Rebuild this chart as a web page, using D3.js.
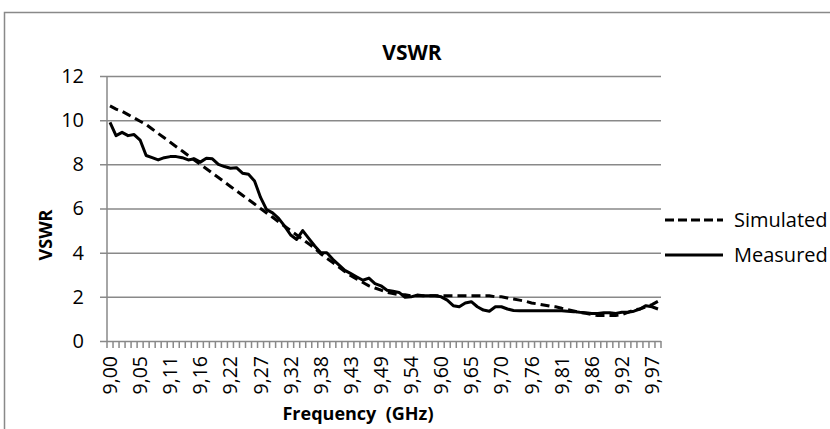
<!DOCTYPE html>
<html>
<head>
<meta charset="utf-8">
<script src="https://cdn.jsdelivr.net/npm/d3@7"></script>
<style>
    body { margin: 0; background: #fff; }
    text { font-family: "Open Sans", sans-serif; fill: #000; }
    .title, .axisTitle { font-weight: bold; white-space: pre; }
</style>
</head>
<body>
<div id="chart"></div>
<script>
// frequency categories (GHz), one per measured point
const freqs = [
    9.00, 9.01, 9.02, 9.03, 9.04, 9.05, 9.06, 9.07, 9.09, 9.10,
    9.11, 9.12, 9.13, 9.14, 9.15, 9.16, 9.17, 9.18, 9.19, 9.20,
    9.22, 9.23, 9.24, 9.25, 9.26, 9.27, 9.28, 9.29, 9.30, 9.31,
    9.32, 9.33, 9.34, 9.35, 9.37, 9.38, 9.39, 9.40, 9.41, 9.42,
    9.43, 9.44, 9.45, 9.46, 9.47, 9.49, 9.50, 9.51, 9.52, 9.53,
    9.54, 9.55, 9.56, 9.57, 9.58, 9.60, 9.61, 9.62, 9.63, 9.64,
    9.65, 9.66, 9.67, 9.68, 9.69, 9.70, 9.71, 9.72, 9.73, 9.75,
    9.76, 9.77, 9.78, 9.79, 9.80, 9.81, 9.82, 9.83, 9.84, 9.85,
    9.86, 9.87, 9.88, 9.90, 9.91, 9.92, 9.93, 9.94, 9.95, 9.96,
    9.97, 9.98
];

const simulated = [
    10.65, 10.5, 10.4, 10.25, 10.1, 9.95, 9.8, 9.6, 9.4, 9.2,
    9.0, 8.8, 8.6, 8.4, 8.2, 8.0, 7.8, 7.6, 7.4, 7.2,
    7.0, 6.8, 6.6, 6.4, 6.2, 6.0, 5.8, 5.6, 5.4, 5.2,
    5.0, 4.8, 4.6, 4.4, 4.2, 3.95, 3.75, 3.55, 3.35, 3.15,
    2.95, 2.8, 2.65, 2.5, 2.4, 2.3, 2.2, 2.15, 2.1, 2.1,
    2.05, 2.05, 2.05, 2.05, 2.05, 2.05, 2.05, 2.05, 2.05, 2.05,
    2.05, 2.05, 2.05, 2.05, 2.0, 2.0, 1.95, 1.9, 1.85, 1.8,
    1.72, 1.68, 1.63, 1.58, 1.55, 1.48, 1.42, 1.36, 1.3, 1.25,
    1.2, 1.15, 1.15, 1.15, 1.15, 1.2, 1.3, 1.4, 1.45, 1.55,
    1.65, 1.8
];

const measured = [
    9.9, 9.3, 9.45, 9.3, 9.35, 9.1, 8.4, 8.3, 8.2, 8.3,
    8.35, 8.35, 8.3, 8.2, 8.25, 8.1, 8.28, 8.25, 8.0, 7.9,
    7.82, 7.85, 7.6, 7.55, 7.25, 6.5, 5.95, 5.8, 5.55, 5.2,
    4.8, 4.6, 5.0, 4.65, 4.3, 4.0, 4.0, 3.7, 3.45, 3.2,
    3.05, 2.9, 2.75, 2.85, 2.6, 2.5, 2.3, 2.25, 2.2, 1.98,
    2.0, 2.08, 2.05, 2.05, 2.05, 2.0, 1.85, 1.6, 1.55, 1.72,
    1.78, 1.55, 1.4, 1.35, 1.55, 1.55, 1.45, 1.38, 1.37, 1.37,
    1.37, 1.37, 1.37, 1.37, 1.37, 1.37, 1.35, 1.33, 1.3, 1.28,
    1.25, 1.25, 1.28, 1.28, 1.25, 1.3, 1.3, 1.35, 1.45, 1.6,
    1.55, 1.45
];

const yTicks = [0, 2, 4, 6, 8, 10, 12];
const labelEvery = 5;

const width = 830;
const height = 429;
const margin = { top: 76, right: 169, bottom: 88, left: 107 };
const gridColour = '#898989';

const svg = d3.select('#chart').append('svg')
    .attr('width', width)
    .attr('height', height);

// chart area frame (runs off the right and bottom of the picture)
svg.append('rect')
    .attr('x', 4.5)
    .attr('y', 12.5)
    .attr('width', 900)
    .attr('height', 500)
    .attr('fill', '#fff')
    .attr('stroke', gridColour)
    .attr('stroke-width', 1.5);

const x = d3.scaleBand()
    .domain(d3.range(freqs.length))
    .range([margin.left, width - margin.right]);

const y = d3.scaleLinear()
    .domain([0, 12])
    .range([height - margin.bottom, margin.top]);

// horizontal gridlines + y axis
const yAxis = d3.axisLeft(y)
    .tickValues(yTicks)
    .tickSize(-(width - margin.right - margin.left + 7))
    .tickPadding(16)
    .tickFormat(d3.format('d'));

svg.append('g')
    .attr('class', 'axis yAxis')
    .attr('transform', `translate(${margin.left - 7}, 0)`)
    .call(yAxis)
    .call(g => g.select('.domain').remove())
    .call(g => g.selectAll('.tick line')
        .attr('stroke', gridColour)
        .attr('stroke-width', 1.5))
    .call(g => g.selectAll('.tick text')
        .attr('font-size', 20)
        .attr('font-family', '"Open Sans", sans-serif'));

// vertical axis line
svg.append('line')
    .attr('x1', margin.left).attr('x2', margin.left)
    .attr('y1', margin.top).attr('y2', height - margin.bottom)
    .attr('stroke', gridColour)
    .attr('stroke-width', 1.5);

// category tick marks on the x axis (between categories)
const xAxisG = svg.append('g')
    .attr('class', 'axis xAxis')
    .attr('transform', `translate(0, ${height - margin.bottom})`);

xAxisG.selectAll('line.catTick')
    .data(d3.range(freqs.length + 1))
    .enter()
    .append('line')
    .attr('class', 'catTick')
    .attr('x1', i => margin.left + i * x.step())
    .attr('x2', i => margin.left + i * x.step())
    .attr('y1', 0)
    .attr('y2', 7)
    .attr('stroke', gridColour)
    .attr('stroke-width', 1.5);

xAxisG.selectAll('text.catLabel')
    .data(d3.range(0, freqs.length, labelEvery))
    .enter()
    .append('text')
    .attr('class', 'catLabel')
    .attr('transform', i => `translate(${x(i) + x.bandwidth() / 2 + 7}, 15) rotate(-90)`)
    .attr('text-anchor', 'end')
    .attr('font-size', 19.5)
    .text(i => d3.format('.2f')(freqs[i]).replace('.', ','));

// series
const line = d3.line()
    .x((d, i) => x(i) + x.bandwidth() / 2)
    .y(d => y(d));

svg.append('path')
    .datum(simulated)
    .attr('class', 'simulated')
    .attr('fill', 'none')
    .attr('stroke', '#000')
    .attr('stroke-width', 3)
    .attr('stroke-dasharray', '9,5')
    .attr('d', line);

svg.append('path')
    .datum(measured)
    .attr('class', 'measured')
    .attr('fill', 'none')
    .attr('stroke', '#000')
    .attr('stroke-width', 3)
    .attr('stroke-linejoin', 'round')
    .attr('d', line);

// titles
svg.append('text')
    .attr('class', 'title')
    .attr('x', 412)
    .attr('y', 60)
    .attr('text-anchor', 'middle')
    .attr('font-size', 21)
    .text('VSWR');

svg.append('text')
    .attr('class', 'axisTitle')
    .attr('x', 358)
    .attr('y', 420)
    .attr('text-anchor', 'middle')
    .attr('font-size', 18)
    .text('Frequency  (GHz)');

svg.append('text')
    .attr('class', 'axisTitle')
    .attr('transform', 'translate(52, 235) rotate(-90)')
    .attr('text-anchor', 'middle')
    .attr('font-size', 18)
    .text('VSWR');

// legend
const legendItems = [
    { name: 'Simulated', dash: '9,4', y: 220 },
    { name: 'Measured', dash: null, y: 255 }
];

const legend = svg.selectAll('g.legend')
    .data(legendItems)
    .enter()
    .append('g')
    .attr('class', 'legend')
    .attr('transform', d => `translate(665, ${d.y})`);

legend.append('line')
    .attr('x1', 0).attr('x2', 58)
    .attr('y1', 0).attr('y2', 0)
    .attr('stroke', '#000')
    .attr('stroke-width', 3)
    .attr('stroke-dasharray', d => d.dash);

legend.append('text')
    .attr('x', 69)
    .attr('y', 0)
    .attr('dy', '0.35em')
    .attr('font-size', 20)
    .text(d => d.name);
</script>
</body>
</html>
